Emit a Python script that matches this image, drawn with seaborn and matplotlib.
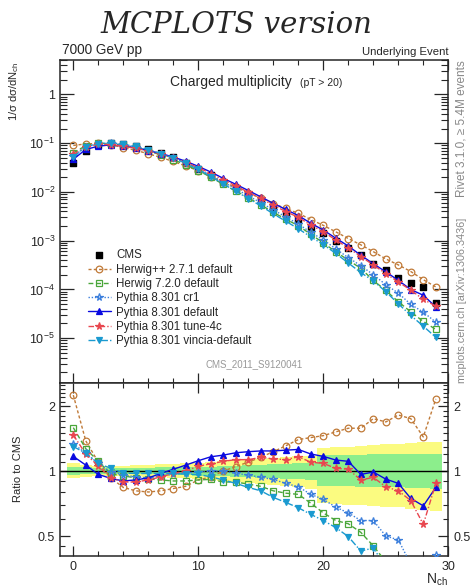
import numpy as np
import pandas as pd
import matplotlib
matplotlib.use('Agg')
import matplotlib.pyplot as plt
import seaborn as sns
from matplotlib.ticker import FixedLocator, FuncFormatter, MultipleLocator, LogLocator, NullFormatter

#------------------------------------------
nch = list(range(30))

# CMS data (top panel)
cms = [0.040, 0.070, 0.090, 0.100, 0.097, 0.088, 0.076, 0.063, 0.051, 0.040,
       0.030, 0.022, 0.016, 0.0118, 0.0087, 0.0064, 0.0047, 0.0035, 0.0026, 0.0019,
       0.00141, 0.00100, 0.00070, 0.00052, 0.00034, 0.00025, 0.000175, 0.000133, 0.000110, 0.000052]

# MC / CMS ratios (bottom panel)
r_hwpp = [2.25, 1.38, 1.10, 0.93, 0.84, 0.81, 0.80, 0.81, 0.83, 0.85,
          0.91, 0.94, 1.00, 1.05, 1.10, 1.16, 1.23, 1.31, 1.40, 1.43,
          1.46, 1.52, 1.58, 1.58, 1.75, 1.69, 1.82, 1.75, 1.44, 2.16]
r_hw7 = [1.59, 1.27, 1.11, 0.97, 0.95, 0.93, 0.92, 0.91, 0.90, 0.90,
         0.91, 0.915, 0.89, 0.89, 0.87, 0.85, 0.81, 0.79, 0.78, 0.71,
         0.64, 0.59, 0.57, 0.52, 0.45, 0.38, 0.32, 0.26, 0.20, 0.29]
r_cr1 = [1.34, 1.21, 1.085, 0.99, 0.96, 0.94, 0.93, 0.95, 0.965, 0.98,
         0.99, 1.00, 1.00, 0.975, 0.96, 0.935, 0.915, 0.877, 0.846, 0.78,
         0.74, 0.68, 0.64, 0.59, 0.59, 0.50, 0.48, 0.37, 0.31, 0.41]
r_def = [1.17, 1.066, 0.965, 0.925, 0.90, 0.91, 0.93, 0.975, 1.02, 1.066,
         1.117, 1.165, 1.186, 1.216, 1.23, 1.24, 1.24, 1.25, 1.26, 1.20,
         1.17, 1.125, 1.11, 0.965, 0.99, 0.918, 0.877, 0.747, 0.69, 0.84]
r_4c = [1.47, 1.20, 1.055, 0.93, 0.89, 0.89, 0.91, 0.94, 0.975, 1.00,
        1.055, 1.08, 1.11, 1.13, 1.13, 1.157, 1.14, 1.13, 1.165, 1.10,
        1.085, 1.03, 1.02, 0.91, 0.935, 0.846, 0.81, 0.73, 0.566, 0.877]
r_vin = [1.30, 1.21, 1.085, 1.03, 0.98, 0.975, 0.975, 0.975, 0.975, 0.968,
         0.965, 0.94, 0.91, 0.877, 0.84, 0.81, 0.755, 0.716, 0.676, 0.63,
         0.59, 0.547, 0.497, 0.426, 0.44, 0.36, 0.29, 0.22, 0.16, 0.20]

# CMS uncertainty bands (ratio)
band_y_hi = [1.09, 1.07, 1.06, 1.06, 1.06, 1.065, 1.07, 1.075, 1.08, 1.085,
             1.09, 1.10, 1.11, 1.12, 1.13, 1.14, 1.15, 1.16, 1.17, 1.18,
             1.28, 1.29, 1.30, 1.31, 1.32, 1.33, 1.34, 1.35, 1.36, 1.37]
band_y_lo = [0.93, 0.94, 0.95, 0.95, 0.95, 0.945, 0.94, 0.935, 0.93, 0.925,
             0.92, 0.91, 0.90, 0.89, 0.88, 0.87, 0.86, 0.85, 0.84, 0.83,
             0.71, 0.705, 0.70, 0.695, 0.69, 0.685, 0.68, 0.67, 0.66, 0.655]
band_g_hi = [1.05, 1.04, 1.03, 1.03, 1.03, 1.035, 1.035, 1.04, 1.04, 1.045,
             1.05, 1.05, 1.055, 1.06, 1.065, 1.07, 1.075, 1.08, 1.085, 1.09,
             1.19, 1.19, 1.19, 1.19, 1.195, 1.195, 1.20, 1.20, 1.20, 1.20]
band_g_lo = [0.96, 0.965, 0.97, 0.97, 0.97, 0.965, 0.965, 0.96, 0.96, 0.955,
             0.95, 0.95, 0.945, 0.94, 0.935, 0.93, 0.925, 0.92, 0.915, 0.91,
             0.85, 0.85, 0.85, 0.845, 0.845, 0.84, 0.84, 0.835, 0.835, 0.83]

labels = ['Herwig++ 2.7.1 default', 'Herwig 7.2.0 default', 'Pythia 8.301 cr1',
          'Pythia 8.301 default', 'Pythia 8.301 tune-4c', 'Pythia 8.301 vincia-default']
ratios = [r_hwpp, r_hw7, r_cr1, r_def, r_4c, r_vin]

#------------------------------------------
# style per series: color, linestyle, marker, filled, size
styles = [
    ('#c07a38', (0, (2.2, 1.6)), 'o', False, 4.8),
    ('#4aa63a', (0, (3.5, 2)), 's', False, 4.6),
    ('#3c7fdc', (0, (1, 1.3)), '*', False, 5.6),
    ('#0a0ae0', '-', '^', True, 4.6),
    ('#e8474f', (0, (4, 1.5, 1, 1.5)), '*', True, 5.6),
    ('#1a9ad0', (0, (5, 1.5, 1, 1.5)), 'v', True, 4.6),
]

sns.set_style('ticks')
plt.rcParams['font.family'] = ['Liberation Sans', 'DejaVu Sans']
plt.rcParams['mathtext.fontset'] = 'custom'
plt.rcParams['mathtext.rm'] = 'Liberation Sans'
plt.rcParams['mathtext.it'] = 'Liberation Sans:italic'
plt.rcParams['axes.linewidth'] = 1.1

df = pd.DataFrame({'nch': nch, 'cms': cms})
for lab, r in zip(labels, ratios):
    df[lab + '_r'] = r
    df[lab] = df['cms'] * df[lab + '_r']

fig = plt.figure(figsize=(4.72, 5.87), dpi=100)
ax1 = fig.add_axes([0.1271, 0.3475, 0.8227, 0.5503])
ax2 = fig.add_axes([0.1271, 0.0528, 0.8227, 0.2947])

#-------------------- top panel
ax1.set_yscale('log')
handles = []
sc = ax1.scatter(df['nch'], df['cms'], marker='s', s=22, color='black', zorder=2, label='CMS')
handles.append(sc)
for lab, (c, ls, m, filled, ms) in zip(labels, styles):
    sns.lineplot(data=df, x='nch', y=lab, ax=ax1, color=c, linestyle=ls, linewidth=1.0,
                 marker=m, markersize=ms, markerfacecolor=c if filled else 'none',
                 markeredgecolor=c, markeredgewidth=0.9, errorbar=None, label=lab, zorder=3)
    handles.append(ax1.get_lines()[-1])

ax1.set_xlim(-1.064, 30)
ax1.set_ylim(1.2e-6, 5.1)
ax1.set_xlabel('')
ax1.set_ylabel('')
ax1.xaxis.set_major_locator(MultipleLocator(10))
ax1.xaxis.set_minor_locator(MultipleLocator(2))
ax1.xaxis.set_major_formatter(NullFormatter())
ax1.yaxis.set_major_locator(LogLocator(base=10, numticks=20))
ax1.yaxis.set_minor_locator(LogLocator(base=10, subs=np.arange(2, 10), numticks=20))
ax1.yaxis.set_minor_formatter(NullFormatter())
ax1.yaxis.set_major_formatter(FuncFormatter(
    lambda v, p: '1' if abs(v - 1) < 1e-9 else '$10^{%d}$' % round(np.log10(v))))
ax1.tick_params(which='both', direction='in', top=True, right=True, labelsize=9)
ax1.tick_params(axis='y', which='major', length=10, width=0.9)
ax1.tick_params(axis='y', which='minor', length=5, width=0.8)
ax1.tick_params(axis='x', which='major', length=7, width=0.9)
ax1.tick_params(axis='x', which='minor', length=3.5, width=0.8)

leg = ax1.legend(handles=handles, labels=['CMS'] + labels, loc='upper left',
                 bbox_to_anchor=(0.072, 0.414), frameon=False, fontsize=8.3,
                 handlelength=2.0, handletextpad=0.45, labelspacing=0.2,
                 borderaxespad=0, borderpad=0)

ax1.text(0.283, 0.932, 'Charged multiplicity', transform=ax1.transAxes, fontsize=10, va='center')
ax1.text(0.618, 0.929, '(pT > 20)', transform=ax1.transAxes, fontsize=7.5, va='center')
ax1.text(0.5, 0.058, 'CMS_2011_S9120041', transform=ax1.transAxes, fontsize=7,
         color='#999999', ha='center', va='center')
ax1.text(0.005, 1.008, '7000 GeV pp', transform=ax1.transAxes, fontsize=9.8, va='bottom')
ax1.text(1.0, 1.008, 'Underlying Event', transform=ax1.transAxes, fontsize=8.2,
         va='bottom', ha='right')
ax1.text(1.034, 1.0, 'Rivet 3.1.0, \u2265 5.4M events', transform=ax1.transAxes,
         rotation=90, fontsize=8.5, color='#888888', ha='center', va='top')
ax1.text(1.034, 0.0, 'mcplots.cern.ch [arXiv:1306.3436]', transform=ax1.transAxes,
         rotation=90, fontsize=7.8, color='#888888', ha='center', va='bottom')

#-------------------- ratio panel
ax2.set_yscale('log')
edges = np.append(np.array(nch) - 0.5, nch[-1] + 0.5)
ext = lambda a: np.append(a, a[-1])
ax2.fill_between(edges, ext(band_y_lo), ext(band_y_hi), step='post',
                 color='#fbfb80', linewidth=0, zorder=1)
ax2.fill_between(edges, ext(band_g_lo), ext(band_g_hi), step='post',
                 color='#8cee8c', linewidth=0, zorder=1)
ax2.axhline(1, color='black', linewidth=1.0, zorder=2)

for lab, (c, ls, m, filled, ms) in zip(labels, styles):
    sns.lineplot(data=df, x='nch', y=lab + '_r', ax=ax2, color=c, linestyle=ls, linewidth=1.0,
                 marker=m, markersize=ms, markerfacecolor=c if filled else 'none',
                 markeredgecolor=c, markeredgewidth=0.9, errorbar=None, zorder=3)

ax2.set_xlim(-1.064, 30)
ax2.set_ylim(0.404, 2.56)
ax2.set_xlabel('')
ax2.set_ylabel('')
ax2.xaxis.set_major_locator(MultipleLocator(10))
ax2.xaxis.set_minor_locator(MultipleLocator(2))
ax2.yaxis.set_major_locator(FixedLocator([0.5, 1, 2]))
ax2.yaxis.set_major_formatter(FuncFormatter(lambda v, p: '%g' % v))
minors = [0.45, 0.6, 0.7, 0.8, 0.9, 1.1, 1.2, 1.3, 1.4, 1.5, 1.6, 1.7, 1.8, 1.9, 2.1, 2.2, 2.3, 2.4, 2.5]
ax2.yaxis.set_minor_locator(FixedLocator(minors))
ax2.yaxis.set_minor_formatter(NullFormatter())
ax2.tick_params(which='both', direction='in', top=True, right=True, labelright=True, labelsize=9)
ax2.tick_params(which='major', length=7, width=0.9)
ax2.tick_params(which='minor', length=3.5, width=0.8)

#-------------------- labels
fig.text(14 / 472, 1 - 62 / 587, '1/\u03c3 d\u03c3/dN$_{\\mathrm{ch}}$', rotation=90,
         ha='center', va='top', fontsize=8)
fig.text(18 / 472, 1 - 469 / 587, 'Ratio to CMS', rotation=90, ha='center', va='center', fontsize=8)
fig.text(448 / 472, 1 - 580 / 587, 'N$_{\\mathrm{ch}}$', ha='right', va='center', fontsize=10)
fig.text(0.501, 1 - 33 / 587, 'MCPLOTS version', ha='center', va='baseline', fontsize=21,
         family='DejaVu Serif', style='italic')

fig.savefig('out.png', dpi=100)
